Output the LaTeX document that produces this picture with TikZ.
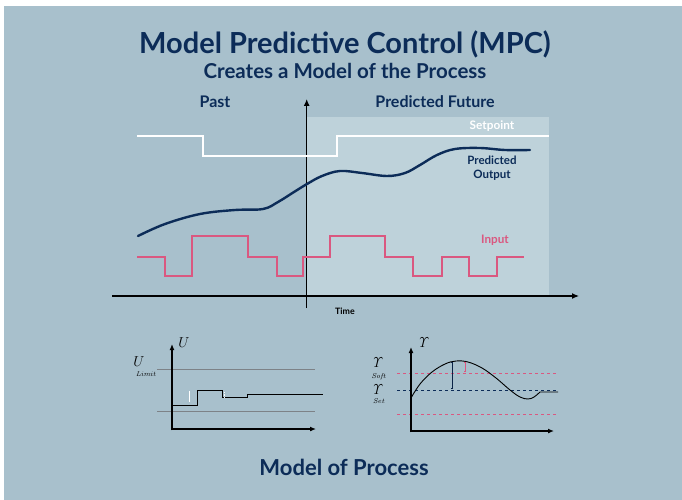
\documentclass[tikz,border=0pt]{standalone}
\usepackage[no-math]{fontspec}
\setmainfont{Lato}
\usetikzlibrary{arrows.meta}
\definecolor{bgc}{RGB}{168,192,204}
\definecolor{futc}{RGB}{190,210,218}
\definecolor{navy}{RGB}{12,44,88}
\definecolor{pinkc}{RGB}{218,88,128}
\definecolor{grayl}{RGB}{125,130,135}
\begin{document}
\begin{tikzpicture}[x=1pt,y=-1pt,
  lbl/.style={font=\bfseries, text=navy, inner sep=0pt},
  axis/.style={line width=1.2pt, -{Latex[length=7pt,width=6pt]}},
  saxis/.style={line width=1.3pt, -{Latex[length=6pt,width=5pt]}},
  mathlbl/.style={inner sep=0pt, font=\fontsize{13.5}{15}\selectfont},
  sublbl/.style={inner sep=0pt, font=\fontsize{7.5}{8}\selectfont}]
\useasboundingbox (0,0) rectangle (682,500);
\fill[white] (0,0) rectangle (682,500);
\fill[bgc] (4,6) rectangle (682,500);
% titles
\node[lbl, font=\bfseries\fontsize{29}{32}\selectfont] (title) at (345,44) {Model Predictive Control (MPC)};
\node[lbl, font=\bfseries\fontsize{20.5}{23}\selectfont] (sub) at (345,71) {Creates a Model of the Process};
\node[lbl, font=\bfseries\fontsize{22}{24}\selectfont] (mop) at (344,467) {Model of Process};
% future region
\fill[futc] (307,117) rectangle (549,296);
% labels
\node[lbl, font=\bfseries\fontsize{16}{18}\selectfont] (past) at (215,102) {Past};
\node[lbl, font=\bfseries\fontsize{16}{18}\selectfont] (fut) at (435,102) {Predicted Future};
\node[lbl, text=white, font=\bfseries\fontsize{11.8}{13}\selectfont] (sp) at (492,126) {Setpoint};
\node[lbl, align=center, font=\bfseries\fontsize{11.5}{14}\selectfont] (po) at (492,168) {Predicted\\Output};
\node[lbl, text=pinkc, font=\bfseries\fontsize{11.7}{13}\selectfont] (inp) at (495,240) {Input};
\node[lbl, text=black, font=\bfseries\fontsize{8.8}{10}\selectfont] (time) at (345,311) {Time};
% axes
\coordinate (yb) at (306.7,308);
\coordinate (yt) at (306.7,99);
\coordinate (xl) at (112,296);
\coordinate (xr) at (579,296);
\draw[axis] (yb) -- (yt);
\draw[axis] (xl) -- (xr);
% setpoint
\draw[white, line width=2.2pt] (137,136) -- (203,136) -- (203,156) -- (337,156) -- (337,136) -- (549,136);
% predicted output
\draw[navy, line width=2.4pt, line cap=round] plot[smooth, tension=0.6] coordinates {
 (138,236) (165,224) (200,214) (235,210) (263,209) (278,202) (294,192) (307,184) (322,176) (340,171) (362,173) (387,176) (405,173) (420,165) (437,155) (455,149) (480,148) (505,150) (530,150)};
% input
\draw[pinkc, line width=2.2pt] (137,257) -- (165,257) -- (165,276) -- (192,276) -- (192,236) -- (248,236) -- (248,257) -- (277,257) -- (277,276) -- (303,276) -- (303,257) -- (330,257) -- (330,236) -- (385,236) -- (385,257) -- (413,257) -- (413,276) -- (442,276) -- (442,257) -- (469,257) -- (469,276) -- (497,276) -- (497,257) -- (524,257);
% lower left chart
\draw[grayl, line width=0.8pt] (157,369) -- (315,369);
\draw[grayl, line width=0.8pt] (157,411) -- (315,411);
\coordinate (lyb) at (172,430);
\coordinate (lyt) at (172,344);
\coordinate (lxr) at (316,429);
\draw[saxis] (lyb) |- (lxr);
\draw[saxis] (lyb) -- (lyt);
\draw[black, line width=0.9pt] (172,405) -- (197,405) -- (197,390) -- (222,390) -- (222,397) -- (247,397) -- (247,394) -- (323,394);
\draw[white, line width=0.8pt] (189,391) -- (189,402);
\draw[white, line width=0.8pt, dash pattern=on 1.5pt off 1pt] (224,391.5) -- (224,397);
\node[mathlbl] (lu) at (184,343) {$U$};
\node[mathlbl] (lul) at (139,362) {$U$};
\node[sublbl] (llim) at (146,374) {$\mathit{Limit}$};
% lower right chart
\draw[pinkc, line width=0.8pt, dashed] (397,373) -- (557,373);
\draw[navy, line width=0.9pt, dashed] (397,390) -- (557,390);
\draw[pinkc, line width=0.8pt, dashed] (397,414) -- (557,414);
\coordinate (ryb) at (411,432);
\coordinate (ryt) at (411,347);
\coordinate (rxr) at (554,431);
\draw[saxis] (ryb) |- (rxr);
\draw[saxis] (ryb) -- (ryt);
\draw[black, line width=0.9pt] plot[smooth, tension=0.6] coordinates {
 (411,398) (420,384) (432,372) (445,364) (456,361) (468,362) (482,368) (496,378) (510,390) (520,397) (528,399) (534,397) (540,392)} -- (558,392);
\draw[navy!80!black, line width=0.8pt, {Bar[width=2pt]}-{Bar[width=2pt]}] (452,362) -- (452,389);
\draw[pinkc, line width=0.7pt, {Bar[width=2pt]}-{Bar[width=2pt]}] (465,362) -- (465,372);
\node[mathlbl] (ry) at (423,343) {$\mathit{\Upsilon}$};
\node[mathlbl] (rys) at (377,363) {$\mathit{\Upsilon}$};
\node[sublbl] (rsoft) at (379,377) {$\mathit{Soft}$};
\node[mathlbl] (ryset) at (377,390) {$\mathit{\Upsilon}$};
\node[sublbl] (rset) at (379,401) {$\mathit{Set}$};
\end{tikzpicture}
\end{document}
